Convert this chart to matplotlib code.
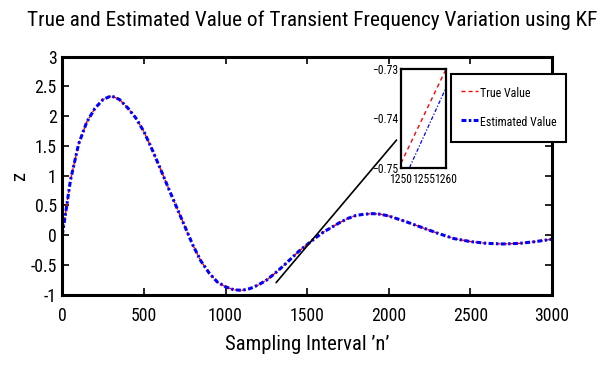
import matplotlib
matplotlib.use('Agg')
import matplotlib.pyplot as plt
from matplotlib import font_manager
from matplotlib.patches import ConnectionPatch
from matplotlib.ticker import FuncFormatter

# 샘플 구간 n 과 참값 / 추정값
n_main = [0, 25, 50, 100, 150, 200, 250, 300, 350, 400, 450, 500, 550, 600,
          650, 700, 750, 800, 850, 900, 950, 1000, 1050, 1100, 1150, 1200,
          1250, 1300, 1350, 1400, 1450, 1500, 1550, 1600, 1650, 1700, 1750,
          1800, 1850, 1900, 1950, 2000, 2100, 2200, 2300, 2400, 2500, 2600,
          2700, 2800, 2900, 3000]
true_main = [0.00, 0.45, 0.92, 1.53, 1.90, 2.13, 2.28, 2.34, 2.28, 2.14, 1.97,
             1.74, 1.44, 1.12, 0.79, 0.47, 0.15, -0.17, -0.44, -0.64, -0.79,
             -0.87, -0.92, -0.93, -0.90, -0.84, -0.76, -0.65, -0.53, -0.40,
             -0.27, -0.16, -0.05, 0.05, 0.13, 0.21, 0.28, 0.33, 0.35, 0.36,
             0.35, 0.32, 0.23, 0.13, 0.03, -0.06, -0.11, -0.14, -0.15, -0.14,
             -0.11, -0.07]
est_main = [0.00, 0.45, 0.92, 1.53, 1.90, 2.13, 2.28, 2.34, 2.28, 2.14, 1.97,
            1.74, 1.44, 1.12, 0.79, 0.47, 0.15, -0.17, -0.44, -0.64, -0.79,
            -0.87, -0.92, -0.93, -0.90, -0.84, -0.76, -0.65, -0.53, -0.40,
            -0.27, -0.16, -0.05, 0.05, 0.13, 0.21, 0.28, 0.33, 0.35, 0.36,
            0.35, 0.32, 0.23, 0.13, 0.03, -0.06, -0.11, -0.14, -0.15, -0.14,
            -0.11, -0.07]

# 확대 구간 (1250~1260)
n_zoom_true = [1250, 1260]
true_zoom = [-0.7491, -0.7301]
n_zoom_est = [1251.9, 1260]
est_zoom = [-0.7500, -0.7339]

x_ticks = [0, 500, 1000, 1500, 2000, 2500, 3000]
y_ticks = [-1, -0.5, 0, 0.5, 1, 1.5, 2, 2.5, 3]
zoom_xticks = [1250, 1255, 1260]
zoom_yticks = [-0.75, -0.74, -0.73]

# 좁은 글꼴이 있으면 사용 (원본은 가로로 눌린 Helvetica 느낌)
installed = {f.name for f in font_manager.fontManager.ttflist}
narrow = next((f for f in ['Liberation Sans Narrow', 'Roboto Condensed', 'Arial Narrow']
               if f in installed), None)
if narrow:
    plt.rcParams['font.family'] = [narrow, 'DejaVu Sans']
    k = 1.0
else:
    plt.rcParams['font.family'] = ['Liberation Sans', 'DejaVu Sans']
    k = 0.82

fig = plt.figure(figsize=(6.16, 3.70), dpi=100)
ax = fig.add_axes([0.1011, 0.204, 0.795, 0.643])

ax.plot(n_main, true_main, color='red', ls=(0, (2.9, 2.2)), lw=1.0, label='True Value')
ax.plot(n_main, est_main, color='blue', ls=(0, (1.6, 0.8, 0.8, 0.8)), lw=2.2,
        label='Estimated Value')

ax.set_xlim(0, 3000)
ax.set_ylim(-1, 3)
ax.set_xticks(x_ticks)
ax.set_yticks(y_ticks)
fmt = FuncFormatter(lambda v, p: f'{v:g}')
ax.xaxis.set_major_formatter(fmt)
ax.yaxis.set_major_formatter(fmt)
ax.tick_params(direction='in', length=5, width=1.2, top=True, right=True,
               labelsize=12.7 * k)
ax.tick_params(axis='x', pad=9)
ax.tick_params(axis='y', pad=4)
for s in ax.spines.values():
    s.set_linewidth(2.2)

ax.set_xlabel('Sampling Interval ’n’', fontsize=14.9 * k, va='center')
ax.xaxis.set_label_coords(0.5, -0.212)
ax.set_ylabel('z', fontsize=14.9 * k, va='center')
ax.yaxis.set_label_coords(-0.088, 0.5)

fig.text(0.506, 1 - 26 / 370, 'True and Estimated Value of Transient Frequency Variation using KF',
         ha='center', va='baseline', fontsize=15.3 * k)

leg = ax.legend(loc='upper left', bbox_to_anchor=(451 / 616, 1 - 74 / 370),
                bbox_transform=fig.transFigure, fancybox=False, edgecolor='black',
                framealpha=1, fontsize=8.6 * k, handlelength=1.45, handleheight=2.0,
                handletextpad=0.1, labelspacing=0.9, borderpad=0.85, borderaxespad=0)
leg.get_frame().set_linewidth(1.5)

# 확대 창
axins = fig.add_axes([0.651, 0.547, 0.0726, 0.266])
axins.plot(n_zoom_true, true_zoom, color='red', ls=(0, (3, 2.5)), lw=1.0)
axins.plot(n_zoom_est, est_zoom, color='blue', ls=(0, (3, 1.5, 1, 1.5)), lw=0.9)
axins.set_xlim(1250, 1260)
axins.set_ylim(-0.75, -0.73)
axins.set_xticks(zoom_xticks)
axins.set_yticks(zoom_yticks)
axins.xaxis.set_major_formatter(FuncFormatter(lambda v, p: f'{v:g}'))
axins.yaxis.set_major_formatter(FuncFormatter(lambda v, p: f'{v:.2f}'.replace('-', '\u2212')))
axins.tick_params(direction='in', length=0, labelsize=8.4 * k, pad=2)
axins.tick_params(axis='x', pad=4)
for s in axins.spines.values():
    s.set_linewidth(1.6)

con = ConnectionPatch(xyA=(1310, -0.80), coordsA=ax.transData,
                      xyB=(-0.1, 0.28), coordsB=axins.transAxes,
                      color='black', lw=1.2)
fig.add_artist(con)

fig.savefig('out.png', dpi=100)
